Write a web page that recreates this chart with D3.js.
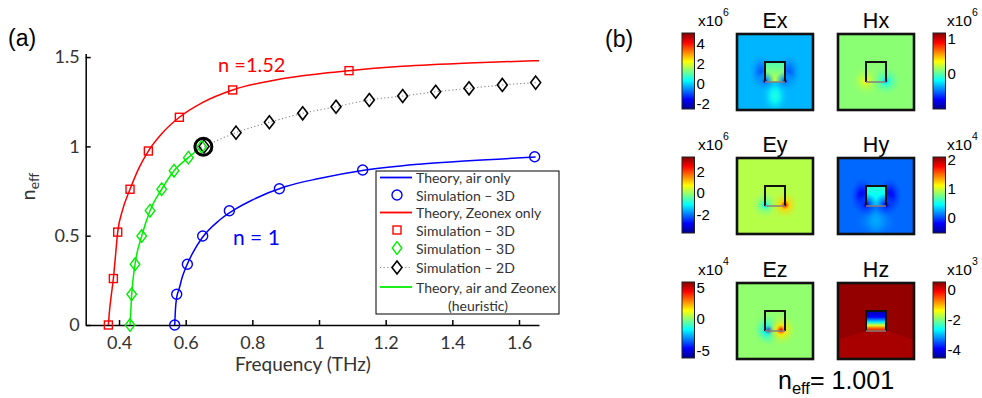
<!DOCTYPE html>
<html>
<head>
<meta charset="utf-8">
<script src="https://cdn.jsdelivr.net/npm/d3@7"></script>
<style>
  body { margin: 0; background: #fff; }
</style>
</head>
<body>
<svg id="fig"></svg>
<script>
// ---------- panel (a): effective index vs frequency ----------
const xTicks = [0.4, 0.6, 0.8, 1.0, 1.2, 1.4, 1.6];
const yTicks = [0, 0.5, 1, 1.5];

// theory, air only (blue line) and 3D simulation (blue circles)
const airTheoryF = [0.567, 0.569, 0.573, 0.58, 0.59, 0.6, 0.62, 0.65, 0.7, 0.75, 0.8, 0.9, 1.0, 1.13, 1.3, 1.45, 1.65];
const airTheoryN = [0, 0.08, 0.155, 0.2, 0.27, 0.32, 0.40, 0.49, 0.585, 0.65, 0.70, 0.775, 0.82, 0.865, 0.90, 0.92, 0.94];
const airSimF = [0.567, 0.573, 0.605, 0.651, 0.731, 0.881, 1.131, 1.647];
const airSimN = [0, 0.172, 0.34, 0.498, 0.64, 0.763, 0.868, 0.942];

// theory, Zeonex only (red line) and 3D simulation (red squares)
const zeonexTheoryF = [0.368, 0.372, 0.377, 0.383, 0.39, 0.396, 0.41, 0.433, 0.46, 0.488, 0.53, 0.581, 0.65, 0.741, 0.85, 0.95, 1.09, 1.25, 1.45, 1.66];
const zeonexTheoryN = [0, 0.09, 0.17, 0.26, 0.40, 0.52, 0.64, 0.76, 0.88, 0.974, 1.075, 1.163, 1.245, 1.316, 1.365, 1.395, 1.424, 1.448, 1.467, 1.48];
const zeonexSimF = [0.368, 0.383, 0.396, 0.433, 0.488, 0.581, 0.741, 1.09];
const zeonexSimN = [0, 0.26, 0.52, 0.76, 0.974, 1.163, 1.316, 1.424];

// air and Zeonex: heuristic theory (green line) and 3D simulation (green diamonds)
const mixedTheoryF = [0.433, 0.438, 0.448, 0.468, 0.493, 0.528, 0.565, 0.608, 0.648];
const mixedTheoryN = [0, 0.172, 0.34, 0.498, 0.64, 0.76, 0.864, 0.937, 0.998];
const mixedSimF = [0.433, 0.438, 0.448, 0.468, 0.493, 0.528, 0.565, 0.608, 0.648];
const mixedSimN = [0, 0.172, 0.34, 0.498, 0.64, 0.76, 0.864, 0.937, 0.998];

// 2D simulation (black diamonds, dotted)
const sim2dF = [0.655, 0.751, 0.851, 0.951, 1.051, 1.151, 1.251, 1.35, 1.45, 1.55, 1.65];
const sim2dN = [1.0, 1.077, 1.135, 1.185, 1.222, 1.26, 1.282, 1.306, 1.325, 1.344, 1.357];

// mode shown in panel (b)
const highlightF = [0.653];
const highlightN = [0.998];

const legendLabels = ["Theory, air only", "Simulation \u2013 3D", "Theory, Zeonex only",
  "Simulation \u2013 3D", "Simulation \u2013 3D", "Simulation \u2013 2D", "Theory, air and Zeonex", "(heuristic)"];

// ---------- panel (b): field maps ----------
const fieldNames = ["Ex", "Hx", "Ey", "Hy", "Ez", "Hz"];
const fieldExponent = [6, 6, 6, 4, 4, 3];
const fieldMin = [-2.6, -1.0, -3.75, -0.55, -6.2, -4.6];
const fieldMax = [5.0, 1.15, 3.3, 2.09, 5.8, 0.5];
const fieldTicks = [[4, 2, 0, -2], [1, 0], [2, 0, -2], [2, 1, 0], [5, 0, -5], [0, -2, -4]];
const fieldBackground = [-0.3, 0.1, 0.15, 0.05, 0.0, 0.4];
const fieldLowerBand = [null, null, null, 0.25, null, 0.3];
const fieldSideLobe = [-1.0, null, null, -0.3, null, null];
const fieldBelowLobe = [0.5, null, null, 0.22, null, null];
const fieldCoreTop = [0.8, 0.1, 0.15, 0.55, 0.0, -4.4];
const fieldCoreMid = [1.2, 0.1, 0.15, 0.45, 0.0, -2.6];
const fieldCoreBottom = [1.8, 0.1, 0.15, 0.4, 0.0, 0.1];
const fieldSpotLeft = [-2.5, 0.5, -1.7, -0.45, -5.9, null];
const fieldSpotRight = [-2.5, -0.45, 2.9, -0.45, 5.2, null];

const W = 982, H = 398;
const svg = d3.select("#fig").attr("width", W).attr("height", H);
const defs = svg.append("defs");
const fontA = "Lato, 'Open Sans', sans-serif";
const fontB = "'Liberation Sans', Arial, sans-serif";

const x = d3.scaleLinear().domain([0.3, 1.66]).range([85.7, 539]);
const y = d3.scaleLinear().domain([0, 1.52]).range([325, 53.5]);

const pts = (fs, ns) => fs.map((f, i) => [f, ns[i]]);
const line = d3.line().x(d => x(d[0])).y(d => y(d[1])).curve(d3.curveMonotoneX);

// axes
const xAxis = svg.append("g")
  .attr("transform", "translate(0,325)")
  .call(d3.axisBottom(x).tickValues(xTicks).tickSizeInner(-5).tickSizeOuter(0).tickPadding(11)
    .tickFormat(d => d === 1 ? "1" : d3.format(".1f")(d)));
const yAxis = svg.append("g")
  .attr("transform", "translate(85.7,0)")
  .call(d3.axisLeft(y).tickValues(yTicks).tickSizeInner(-5).tickSizeOuter(0).tickPadding(6)
    .tickFormat(d => d === 0 || d === 1 ? String(d) : d3.format(".1f")(d)));
[xAxis, yAxis].forEach(a => {
  a.attr("font-family", fontA).attr("font-size", 18);
  a.selectAll("text").attr("fill", "#333");
  a.select(".domain").attr("stroke", "#000").attr("stroke-width", 1.5);
  a.selectAll(".tick line").attr("stroke", "#000").attr("stroke-width", 1.5);
});

svg.append("text")
  .attr("x", 303).attr("y", 371)
  .attr("text-anchor", "middle")
  .attr("font-family", fontA).attr("font-size", 19).attr("fill", "#333")
  .text("Frequency (THz)");

const yl = svg.append("text")
  .attr("transform", "translate(35,186.5) rotate(-90)")
  .attr("text-anchor", "middle")
  .attr("font-family", fontA).attr("fill", "#333");
yl.append("tspan").attr("font-size", 20).text("n");
yl.append("tspan").attr("font-size", 14).attr("dy", 4).text("eff");

svg.append("text").attr("x", 8).attr("y", 46)
  .attr("font-family", fontB).attr("font-size", 23).text("(a)");

// series
svg.append("path").datum(pts(airTheoryF, airTheoryN))
  .attr("d", line).attr("fill", "none").attr("stroke", "#0000ff").attr("stroke-width", 1.5);
svg.append("path").datum(pts(zeonexTheoryF, zeonexTheoryN))
  .attr("d", line).attr("fill", "none").attr("stroke", "#ff0000").attr("stroke-width", 1.5);
svg.append("path").datum(pts(sim2dF, sim2dN))
  .attr("d", line).attr("fill", "none").attr("stroke", "#888").attr("stroke-width", 1.1)
  .attr("stroke-dasharray", "1.2,2.4");
svg.append("path").datum(pts(mixedTheoryF, mixedTheoryN))
  .attr("d", line).attr("fill", "none").attr("stroke", "#00ee00").attr("stroke-width", 1.5);

const diamond = (w, h) => `M0,${-h}L${w},0L0,${h}L${-w},0Z`;

svg.selectAll(".air").data(pts(airSimF, airSimN)).enter().append("circle")
  .attr("cx", d => x(d[0])).attr("cy", d => y(d[1])).attr("r", 5)
  .attr("fill", "none").attr("stroke", "#0000ff").attr("stroke-width", 1.4);
svg.selectAll(".zeo").data(pts(zeonexSimF, zeonexSimN)).enter().append("rect")
  .attr("x", d => x(d[0]) - 4).attr("y", d => y(d[1]) - 4).attr("width", 8).attr("height", 8)
  .attr("fill", "none").attr("stroke", "#ff0000").attr("stroke-width", 1.4);
svg.selectAll(".s2d").data(pts(sim2dF, sim2dN)).enter().append("path")
  .attr("transform", d => `translate(${x(d[0])},${y(d[1])})`).attr("d", diamond(5, 6.5))
  .attr("fill", "none").attr("stroke", "#000").attr("stroke-width", 1.6);
svg.selectAll(".mix").data(pts(mixedSimF, mixedSimN)).enter().append("path")
  .attr("transform", d => `translate(${x(d[0])},${y(d[1])})`).attr("d", diamond(4.8, 6.3))
  .attr("fill", "none").attr("stroke", "#00ee00").attr("stroke-width", 1.4);
svg.selectAll(".hl").data(pts(highlightF, highlightN)).enter().append("circle")
  .attr("cx", d => x(d[0])).attr("cy", d => y(d[1])).attr("r", 8.5)
  .attr("fill", "none").attr("stroke", "#000").attr("stroke-width", 3);

svg.append("text").attr("x", 218).attr("y", 72)
  .attr("font-family", fontA).attr("font-size", 20).attr("fill", "#ff0000").text("n =1.52");
svg.append("text").attr("x", 233).attr("y", 245)
  .attr("font-family", fontA).attr("font-size", 21).attr("fill", "#0000ff").text("n = 1");

// legend
const lg = svg.append("g").attr("font-family", fontA).attr("font-size", 14);
lg.append("rect").attr("x", 376).attr("y", 171).attr("width", 183).attr("height", 143)
  .attr("fill", "#fff").attr("stroke", "#000").attr("stroke-width", 1);
const rowY = [177.5, 195, 212.5, 230, 248, 267.5, 287, 305];
const mx0 = 397;
lg.append("line").attr("x1", 380).attr("x2", 412).attr("y1", rowY[0]).attr("y2", rowY[0])
  .attr("stroke", "#0000ff").attr("stroke-width", 1.8);
lg.append("circle").attr("cx", mx0).attr("cy", rowY[1]).attr("r", 5)
  .attr("fill", "none").attr("stroke", "#0000ff").attr("stroke-width", 1.4);
lg.append("line").attr("x1", 380).attr("x2", 412).attr("y1", rowY[2]).attr("y2", rowY[2])
  .attr("stroke", "#ff0000").attr("stroke-width", 1.8);
lg.append("rect").attr("x", mx0 - 4).attr("y", rowY[3] - 4).attr("width", 8).attr("height", 8)
  .attr("fill", "none").attr("stroke", "#ff0000").attr("stroke-width", 1.4);
lg.append("path").attr("transform", `translate(${mx0},${rowY[4]})`).attr("d", diamond(4.8, 6.3))
  .attr("fill", "none").attr("stroke", "#00ee00").attr("stroke-width", 1.4);
lg.append("line").attr("x1", 380).attr("x2", 412).attr("y1", rowY[5]).attr("y2", rowY[5])
  .attr("stroke", "#888").attr("stroke-width", 1.1).attr("stroke-dasharray", "1.2,2.4");
lg.append("path").attr("transform", `translate(${mx0},${rowY[5]})`).attr("d", diamond(5, 6.5))
  .attr("fill", "#fff").attr("stroke", "#000").attr("stroke-width", 1.6);
lg.append("line").attr("x1", 380).attr("x2", 412).attr("y1", rowY[6]).attr("y2", rowY[6])
  .attr("stroke", "#00ee00").attr("stroke-width", 1.8);
legendLabels.forEach((t, i) => {
  lg.append("text")
    .attr("x", i === 7 ? 478 : 416).attr("y", rowY[i])
    .attr("text-anchor", i === 7 ? "middle" : "start")
    .attr("dominant-baseline", "central").attr("fill", "#333").text(t);
});

// ---------- panel (b) drawing ----------
svg.append("text").attr("x", 605).attr("y", 47)
  .attr("font-family", fontB).attr("font-size", 23).text("(b)");

const jet = d3.scaleLinear()
  .domain([0, 0.125, 0.375, 0.625, 0.875, 1])
  .range(["#00008f", "#0000ff", "#00ffff", "#ffff00", "#ff0000", "#800000"])
  .clamp(true);

const mapLeft = [737, 838];
const mapTop = [34, 158, 283];
const S = 76, c0 = 28, c1 = 48;
const spotInset = [0, 0, 0, 0, 4, 0];
const spotR = [2.8, 4.5, 4.5, 3.5, 5, 0];
const haloR = [10, 16, 15, 12, 17, 0];
const haloK = [0.22, 0.5, 0.5, 0.4, 0.5, 0];

function radial(id, colIn, colMid, colOut) {
  const g = defs.append("radialGradient").attr("id", id);
  g.append("stop").attr("offset", 0).attr("stop-color", colIn).attr("stop-opacity", 1);
  g.append("stop").attr("offset", 0.3).attr("stop-color", colMid).attr("stop-opacity", 0.85);
  g.append("stop").attr("offset", 1).attr("stop-color", colOut).attr("stop-opacity", 0);
}

fieldNames.forEach((name, i) => {
  const row = Math.floor(i / 2), side = i % 2;
  const mx = mapLeft[side], my = mapTop[row];
  const norm = d3.scaleLinear().domain([fieldMin[i], fieldMax[i]]).range([0, 1]);
  const color = v => jet(norm(v));
  const bg = fieldBackground[i];
  const mix = (v, k) => bg + (v - bg) * k;

  defs.append("clipPath").attr("id", "clip" + i)
    .append("rect").attr("width", S).attr("height", S);
  const g = svg.append("g").attr("transform", `translate(${mx},${my})`);
  const m = g.append("g").attr("clip-path", `url(#clip${i})`);
  m.append("rect").attr("width", S).attr("height", S).attr("fill", color(bg));

  if (fieldLowerBand[i] !== null) {
    if (name === "Hz") {
      m.append("path").attr("d", `M0,57L${c0},${c1}L${c1},${c1}L${S},57L${S},${S}L0,${S}Z`)
        .attr("fill", color(fieldLowerBand[i]));
    } else {
      radial("band" + i, color(fieldLowerBand[i]), color(mix(fieldLowerBand[i], 0.7)), color(bg));
      m.append("ellipse").attr("cx", 38).attr("cy", 64).attr("rx", 22).attr("ry", 16)
        .attr("fill", `url(#band${i})`);
    }
  }
  if (fieldSideLobe[i] !== null) {
    radial("side" + i, color(fieldSideLobe[i]), color(mix(fieldSideLobe[i], 0.7)), color(bg));
    [c0 - 4, c1 + 4].forEach(cx => m.append("ellipse")
      .attr("cx", cx).attr("cy", 38).attr("rx", 13).attr("ry", 20)
      .attr("fill", `url(#side${i})`));
  }
  if (fieldBelowLobe[i] !== null) {
    radial("below" + i, color(fieldBelowLobe[i]), color(mix(fieldBelowLobe[i], 0.8)), color(bg));
    m.append("ellipse").attr("cx", 38).attr("cy", 62).attr("rx", 14).attr("ry", 20)
      .attr("fill", `url(#below${i})`);
  }

  // core
  const cg = defs.append("linearGradient").attr("id", "core" + i)
    .attr("x1", 0).attr("y1", 0).attr("x2", 0).attr("y2", 1);
  if (name === "Hz") {
    [[0, fieldCoreTop[i]], [0.3, -4.0], [0.55, -2.8], [0.72, -1.6], [0.85, -0.7], [1, fieldCoreBottom[i]]]
      .forEach(([o, k]) => cg.append("stop").attr("offset", o).attr("stop-color", color(k)));
  } else {
    cg.append("stop").attr("offset", 0).attr("stop-color", color(fieldCoreTop[i]));
    cg.append("stop").attr("offset", 0.5).attr("stop-color", color(fieldCoreMid[i]));
    cg.append("stop").attr("offset", 1).attr("stop-color", color(fieldCoreBottom[i]));
  }
  m.append("rect").attr("x", c0).attr("y", c0).attr("width", c1 - c0).attr("height", c1 - c0)
    .attr("fill", `url(#core${i})`);

  // corner spots
  const ins = spotInset[i];
  [[fieldSpotLeft[i], c0 + ins, "L"], [fieldSpotRight[i], c1 - ins, "R"]].forEach(([v, cx, k]) => {
    if (v === null) return;
    radial("halo" + k + i, color(mix(v, haloK[i])), color(mix(v, haloK[i] * 0.6)), color(bg));
    m.append("circle").attr("cx", cx).attr("cy", c1 - 1).attr("r", haloR[i])
      .attr("fill", `url(#halo${k}${i})`);
    radial("spot" + k + i, color(v), color(mix(v, 0.7)), color(mix(v, 0.4)));
    m.append("circle").attr("cx", cx).attr("cy", c1 - 1).attr("r", spotR[i])
      .attr("fill", `url(#spot${k}${i})`);
  });

  // core outline
  g.append("path").attr("d", `M${c0},${c1}V${c0}H${c1}V${c1}`)
    .attr("fill", "none").attr("stroke", "#111").attr("stroke-width", 2);
  g.append("line").attr("x1", c0).attr("x2", c1).attr("y1", c1).attr("y2", c1)
    .attr("stroke", "#8a7d78").attr("stroke-width", 1.5);
  g.append("rect").attr("width", S).attr("height", S)
    .attr("fill", "none").attr("stroke", "#111").attr("stroke-width", 2.6);

  g.append("text").attr("x", S / 2).attr("y", -6).attr("text-anchor", "middle")
    .attr("font-family", fontB).attr("font-size", 21.5).text(name);

  // colour bar
  const cbx = side === 0 ? 682 : 933;
  const cbY = d3.scaleLinear().domain([fieldMin[i], fieldMax[i]]).range([my + 75, my - 1]);
  const lg2 = defs.append("linearGradient").attr("id", "cb" + i)
    .attr("x1", 0).attr("y1", 1).attr("x2", 0).attr("y2", 0);
  jet.domain().forEach(o => lg2.append("stop").attr("offset", o).attr("stop-color", jet(o)));
  svg.append("rect").attr("x", cbx).attr("y", my - 1).attr("width", 12.5).attr("height", 76)
    .attr("fill", `url(#cb${i})`).attr("stroke", "#222").attr("stroke-width", 1);
  const tx = side === 0 ? 696.5 : 947.5;
  fieldTicks[i].forEach(t => {
    svg.append("text").attr("x", tx).attr("y", cbY(t))
      .attr("dominant-baseline", "central")
      .attr("font-family", fontB).attr("font-size", 15).text(t < 0 ? "-" + Math.abs(t) : String(t));
  });
  const ex = svg.append("text").attr("x", side === 0 ? 698 : 947).attr("y", my - 8)
    .attr("font-family", fontB).attr("font-size", 15.5);
  ex.append("tspan").text("x10");
  ex.append("tspan").attr("font-size", 10.5).attr("dy", -10).text(fieldExponent[i]);
});

const ne = svg.append("text").attr("x", 778).attr("y", 389)
  .attr("font-family", fontB).attr("font-size", 25);
ne.append("tspan").text("n");
ne.append("tspan").attr("font-size", 16.5).attr("dy", 5).text("eff");
ne.append("tspan").attr("dy", -5).text("= 1.001");
</script>
</body>
</html>
